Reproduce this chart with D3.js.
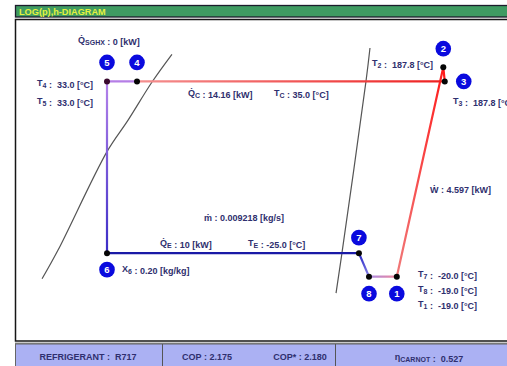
<!DOCTYPE html>
<html>
<head>
<meta charset="utf-8">
<script src="https://cdn.jsdelivr.net/npm/d3@7"></script>
<style>
  body { margin: 0; background: #fff; }
  text { font-family: "Liberation Sans", Arial, sans-serif; font-weight: bold; }
</style>
</head>
<body>
<svg id="chart" width="507" height="366"></svg>
<script>
// Cycle state points (enthalpy kJ/kg, pressure bar)
const stateIds = ["1", "2", "3", "4", "5", "6", "7", "8"];
const enthalpy = [1552, 1741, 1747, 496, 374, 374, 1398, 1439];
const pressure = [1.11, 16.2, 13.5, 13.5, 13.5, 1.5, 1.5, 1.11];

// Saturation curves
const liquidH = [638, 557, 459, 374, 175, 110];
const liquidP = [19.1, 13.4, 8.2, 5.5, 1.56, 1.08];
const vaporH = [1443, 1427, 1329, 1305];
const vaporP = [20.7, 13.6, 1.5, 0.9];

// Temperatures [°C]
const tempIds = ["1", "2", "3", "4", "5", "7", "8"];
const tempValues = ["-19.0", "187.8", "187.8", "33.0", "33.0", "-20.0", "-19.0"];
const condTemp = "35.0";
const evapTemp = "-25.0";

// Energy flows
const heatCond = "14.16";
const heatEvap = "10";
const heatSGHX = "0";
const workComp = "4.597";
const massFlow = "0.009218";
const quality6 = "0.20";

// Summary row
const summaryLabels = ["REFRIGERANT", "COP", "COP*", "CARNOT"];
const summaryValues = ["R717", "2.175", "2.180", "0.527"];

const W = 507, H = 366;
const svg = d3.select("#chart");
const navy = "#2f2f6e";

const x = d3.scaleLinear().domain([0, 2000]).range([15, 507]);
const y = d3.scaleLog().domain([0.5, 30]).range([339, 19]);

const pts = stateIds.map((id, i) => ({ id, h: enthalpy[i], p: pressure[i], x: x(enthalpy[i]), y: y(pressure[i]) }));
const P = id => pts.find(d => d.id === id);

// Header bar
svg.append("rect").attr("x", 15.5).attr("y", 5.5).attr("width", 600).attr("height", 11.5)
  .attr("fill", "#3f9b62").attr("stroke", "#1c1c2c").attr("stroke-width", 1.3);
svg.append("text").attr("x", 19).attr("y", 14.6).attr("font-size", 9.2)
  .attr("fill", "#e4f23e").text("LOG(p),h-DIAGRAM");

// Plot frame
svg.append("rect").attr("x", 15.5).attr("y", 19.5).attr("width", 600).attr("height", 321.5)
  .attr("fill", "#fff").attr("stroke", "#161616").attr("stroke-width", 1.5);
svg.append("line").attr("x1", 15).attr("x2", W).attr("y1", 343.2).attr("y2", 343.2)
  .attr("stroke", "#555").attr("stroke-width", 1);

// Summary panel
svg.append("rect").attr("x", 15.5).attr("y", 344).attr("width", 600).attr("height", 30)
  .attr("fill", "#abb1f3").attr("stroke", "#666").attr("stroke-width", 1);
[162, 335].forEach(px => svg.append("line").attr("x1", px + 0.5).attr("x2", px + 0.5)
  .attr("y1", 344).attr("y2", H).attr("stroke", "#555").attr("stroke-width", 1));

// Saturation curves
const satLine = d3.line().x(d => x(d[0])).y(d => y(d[1])).curve(d3.curveCatmullRom);
svg.append("path").attr("d", satLine(liquidH.map((h, i) => [h, liquidP[i]])))
  .attr("fill", "none").attr("stroke", "#555").attr("stroke-width", 1.2);
svg.append("path").attr("d", satLine(vaporH.map((h, i) => [h, vaporP[i]])))
  .attr("fill", "none").attr("stroke", "#555").attr("stroke-width", 1.2);

// Cycle segments with colour gradients
const defs = svg.append("defs");
const segments = [
  ["6", "7", "#1a1aa6", "#1a1aa6"],
  ["7", "8", "#2222c4", "#8a84e6"],
  ["8", "1", "#a88ae4", "#f2889a"],
  ["1", "2", "#f07a7a", "#ff1c1c"],
  ["2", "3", "#ff1c1c", "#ff1c1c"],
  ["3", "4", "#ee2020", "#f49090"],
  ["4", "5", "#b57ee6", "#b57ee6"],
  ["5", "6", "#b583ea", "#3a2cc6"]
];
segments.forEach(([a, b, c0, c1], i) => {
  const pa = P(a), pb = P(b);
  const g = defs.append("linearGradient").attr("id", "seg" + i)
    .attr("gradientUnits", "userSpaceOnUse")
    .attr("x1", pa.x).attr("y1", pa.y).attr("x2", pb.x).attr("y2", pb.y + 0.01);
  g.append("stop").attr("offset", 0).attr("stop-color", c0);
  g.append("stop").attr("offset", 1).attr("stop-color", c1);
  svg.append("line").attr("x1", pa.x).attr("y1", pa.y).attr("x2", pb.x).attr("y2", pb.y)
    .attr("stroke", `url(#seg${i})`).attr("stroke-width", 2.2).attr("stroke-linecap", "round");
});

// State dots
svg.selectAll("circle.state").data(pts).join("circle").attr("class", "state")
  .attr("cx", d => d.x).attr("cy", d => d.y).attr("r", 3)
  .attr("fill", d => d.id === "5" ? "#3a0a2e" : "#050505");

// Numbered badges
const badgeOffset = { "1": [0, 17], "2": [0, -18.5], "3": [19, 0], "4": [0, -19],
  "5": [0, -19], "6": [0, 16.5], "7": [0, -15.5], "8": [0, 17] };
pts.forEach(d => {
  const [dx, dy] = badgeOffset[d.id];
  svg.append("circle").attr("cx", d.x + dx).attr("cy", d.y + dy).attr("r", 7.8)
    .attr("fill", "#0a0ade");
  svg.append("text").attr("x", d.x + dx).attr("y", d.y + dy + 3.3)
    .attr("text-anchor", "middle").attr("font-size", 9.5).attr("fill", "#fff").text(d.id);
});

// Text with subscripts: parts = [[text, isSub], ...]
function label(px, py, parts, opts = {}) {
  const t = svg.append("text").attr("x", px).attr("y", py)
    .attr("font-size", opts.size || 9).attr("fill", navy)
    .attr("text-anchor", opts.anchor || "start").style("white-space", "pre");
  parts.forEach(([s, sub]) => {
    if (sub) {
      t.append("tspan").attr("font-size", 7).attr("dy", 2.2).text(s);
      t.append("tspan").attr("dy", -2.2).text("");
    } else {
      t.append("tspan").text(s);
    }
  });
  return t;
}
const dot = "\u0307";
const T = id => tempValues[tempIds.indexOf(id)];

label(78, 43, [["Q" + dot, 0], ["SGHX", 1], [" : " + heatSGHX + " [kW]", 0]]);
label(37, 86, [["T", 0], ["4", 1], [" :  " + T("4") + " [°C]", 0]]);
label(37, 104, [["T", 0], ["5", 1], [" :  " + T("5") + " [°C]", 0]]);
label(188, 96, [["Q" + dot, 0], ["C", 1], [" : " + heatCond + " [kW]", 0]]);
label(274, 96, [["T", 0], ["C", 1], [" : " + condTemp + " [°C]", 0]]);
label(372, 66, [["T", 0], ["2", 1], [" :  " + T("2") + " [°C]", 0]]);
label(453, 104, [["T", 0], ["3", 1], [" :  " + T("3") + " [°C]", 0]]);
label(430, 193, [["W" + dot, 0], [" : " + workComp + " [kW]", 0]]);
label(204, 221, [["m" + dot, 0], [" : " + massFlow + " [kg/s]", 0]]);
label(160, 246, [["Q" + dot, 0], ["E", 1], [" : " + heatEvap + " [kW]", 0]]);
label(248, 246, [["T", 0], ["E", 1], [" : " + evapTemp + " [°C]", 0]]);
label(122, 272, [["X", 0], ["6", 1], [" : " + quality6 + " [kg/kg]", 0]]);
label(418, 277, [["T", 0], ["7", 1], [" :  " + T("7") + " [°C]", 0]]);
label(418, 292, [["T", 0], ["8", 1], [" :  " + T("8") + " [°C]", 0]]);
label(418, 307, [["T", 0], ["1", 1], [" :  " + T("1") + " [°C]", 0]]);

// Summary row
label(88, 360, [[summaryLabels[0] + " :  " + summaryValues[0], 0]], { anchor: "middle" });
label(207, 360, [[summaryLabels[1] + " : " + summaryValues[1], 0]], { anchor: "middle" });
label(300, 360, [[summaryLabels[2] + " : " + summaryValues[2], 0]], { anchor: "middle" });
label(429, 360, [["η", 0], [summaryLabels[3], 1], [" :  " + summaryValues[3], 0]], { anchor: "middle" });
</script>
</body>
</html>
